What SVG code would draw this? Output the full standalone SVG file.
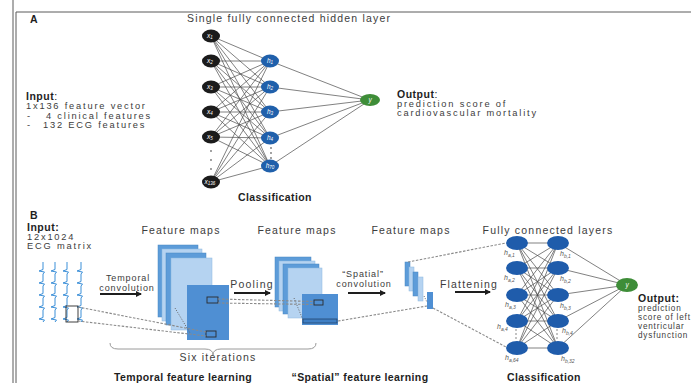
<svg xmlns="http://www.w3.org/2000/svg" width="691" height="383" viewBox="0 0 691 383">
<defs>
<style>
.t{font-family:'Liberation Sans',Arial,Helvetica,sans-serif;font-size:10.5px;letter-spacing:1.2px;fill:#3c3c3c}
.s{font-size:9.3px;letter-spacing:1.8px}
.bd{font-weight:bold;fill:#1e1e1e;letter-spacing:0.5px}
.c{text-anchor:middle}
.ttl{font-family:'Liberation Sans',Arial,Helvetica,sans-serif;font-size:10.5px;font-weight:bold;letter-spacing:0.4px;fill:#1e1e1e;text-anchor:middle}
.nl{font-family:'Liberation Sans',Arial,Helvetica,sans-serif;font-style:italic;font-size:6.5px;fill:#ffffff;text-anchor:middle}
.hl{font-family:'Liberation Sans',Arial,Helvetica,sans-serif;font-style:italic;font-size:7px;fill:#555555}
.frame{stroke:#5a5a5a;stroke-width:1;fill:none}
.e{stroke:#4a4a4a;stroke-width:0.7;fill:none}
.dash{stroke:#8a8a8a;stroke-width:1.1;stroke-dasharray:2.5 1.5;fill:none}
.dot{stroke:#666666;stroke-width:1;stroke-dasharray:1 1.5;fill:none}
.arr{stroke:#1e1e1e;stroke-width:2;fill:none;marker-end:url(#ah)}
.blk{fill:#1b1b1b}
.bluA{fill:#2060ab}
.bluB{fill:#1f5cab}
.grn{fill:#3e8d38}
.dk{fill:#5d9cd9;stroke:#4a86c2;stroke-width:0.5}
.lt{fill:#b5d3f1;stroke:#8db7e0;stroke-width:0.5}
.fr{fill:#4f8fd3}
.ecg{stroke:#3b8fd8;stroke-width:1;fill:none}
.box{stroke:#2a2a2a;stroke-width:0.9;fill:none}
.brace{stroke:#9a9a9a;stroke-width:1;fill:none}
.vd{fill:#777777}
.ob{font-size:8.2px;letter-spacing:0.8px}
.op{font-size:9px;letter-spacing:0.9px}
</style>
<marker id="ah" markerWidth="6" markerHeight="6" refX="5" refY="3" orient="auto" markerUnits="userSpaceOnUse"><path d="M0,0 L6,3 L0,6 z" fill="#1e1e1e"/></marker>
<!-- one ECG lead, drawn vertically with five beats -->
<path id="lead" d="M0,0 v7.5 l-4,1.5 l5.5,1 l-1.5,2 v7.5 l-4,1.5 l5.5,1 l-1.5,2 v7.5 l-4,1.5 l5.5,1 l-1.5,2 v7.5 l-4,1.5 l5.5,1 l-1.5,2 v7.5 l-4,1.5 l5.5,1 l-1.5,2"/>
</defs>

<rect width="691" height="383" fill="#ffffff"/>

<!-- frame -->
<g id="frame">
<path class="frame" d="M13,0 V383 M16,12 V383 M16,12 H691"/>
</g>

<!-- ===== Panel A ===== -->
<g id="panelA-labels">
<text class="t bd" x="30" y="23" font-size="10">A</text>
<text class="t" x="187" y="22">Single fully connected hidden layer</text>
<text class="t bd" x="26" y="100" font-size="10">Input<tspan font-weight="normal">:</tspan></text>
<text class="t s" x="26" y="109">1x136 feature vector</text>
<text class="t s" x="27" y="118.5">-<tspan x="46">4 clinical features</tspan></text>
<text class="t s" x="27" y="128">-<tspan x="43">132 ECG features</tspan></text>
<text class="t bd" x="397" y="98" font-size="10">Output<tspan font-weight="normal">:</tspan></text>
<text class="t s" x="397" y="107">prediction score of</text>
<text class="t s" x="397" y="116">cardiovascular mortality</text>
<text class="ttl" x="275" y="201">Classification</text>
</g>

<g id="panelA-connectors">
<path class="e" d="M211,36L270,61M211,36L270,87M211,36L270,112M211,36L270,138M211,36L270,166"/>
<path class="e" d="M211,61L270,61M211,61L270,87M211,61L270,112M211,61L270,138M211,61L270,166"/>
<path class="e" d="M211,87L270,61M211,87L270,87M211,87L270,112M211,87L270,138M211,87L270,166"/>
<path class="e" d="M211,112L270,61M211,112L270,87M211,112L270,112M211,112L270,138M211,112L270,166"/>
<path class="e" d="M211,137L270,61M211,137L270,87M211,137L270,112M211,137L270,138M211,137L270,166"/>
<path class="e" d="M211,182L270,61M211,182L270,87M211,182L270,112M211,182L270,138M211,182L270,166"/>
<path class="e" d="M270,61L370,100M270,87L370,100M270,112L370,100M270,138L370,100M270,166L370,100"/>
</g>

<g id="x1"><ellipse class="blk" cx="211" cy="36" rx="9" ry="6.5"/><text class="nl" x="210" y="38">x<tspan font-size="4.5" dy="1">1</tspan></text></g>
<g id="x2"><ellipse class="blk" cx="211" cy="61" rx="9" ry="6.5"/><text class="nl" x="210" y="63">x<tspan font-size="4.5" dy="1">2</tspan></text></g>
<g id="x3"><ellipse class="blk" cx="211" cy="87" rx="9" ry="6.5"/><text class="nl" x="210" y="89">x<tspan font-size="4.5" dy="1">3</tspan></text></g>
<g id="x4"><ellipse class="blk" cx="211" cy="112" rx="9" ry="6.5"/><text class="nl" x="210" y="114">x<tspan font-size="4.5" dy="1">4</tspan></text></g>
<g id="x5"><ellipse class="blk" cx="211" cy="137" rx="9" ry="6.5"/><text class="nl" x="210" y="139">x<tspan font-size="4.5" dy="1">5</tspan></text></g>
<g id="x-dots"><circle class="vd" cx="211" cy="151" r="0.9"/><circle class="vd" cx="211" cy="160" r="0.9"/><circle class="vd" cx="211" cy="169" r="0.9"/></g>
<g id="x136"><ellipse class="blk" cx="211" cy="182" rx="9" ry="6.5"/><text class="nl" x="210" y="184">x<tspan font-size="4.5" dy="1">136</tspan></text></g>

<g id="h1"><ellipse class="bluA" cx="270" cy="61" rx="9" ry="6.5"/><text class="nl" x="270" y="63">h<tspan font-size="4.5" dy="1">1</tspan></text></g>
<g id="h2"><ellipse class="bluA" cx="270" cy="87" rx="9" ry="6.5"/><text class="nl" x="270" y="89">h<tspan font-size="4.5" dy="1">2</tspan></text></g>
<g id="h3"><ellipse class="bluA" cx="270" cy="112" rx="9" ry="6.5"/><text class="nl" x="270" y="114">h<tspan font-size="4.5" dy="1">3</tspan></text></g>
<g id="h4"><ellipse class="bluA" cx="270" cy="138" rx="9" ry="6.5"/><text class="nl" x="270" y="140">h<tspan font-size="4.5" dy="1">4</tspan></text></g>
<g id="h-dots"><circle class="vd" cx="271" cy="148" r="0.9"/><circle class="vd" cx="271" cy="153" r="0.9"/><circle class="vd" cx="271" cy="158" r="0.9"/></g>
<g id="h70"><ellipse class="bluA" cx="270" cy="166" rx="9" ry="6.5"/><text class="nl" x="270" y="168">h<tspan font-size="4.5" dy="1">70</tspan></text></g>

<g id="yA"><ellipse class="grn" cx="370" cy="100" rx="10" ry="6"/><text class="nl" x="370" y="102">y</text></g>

<!-- ===== Panel B ===== -->
<g id="panelB-labels">
<text class="t bd" x="30" y="219" font-size="10">B</text>
<text class="t bd" x="27" y="231" font-size="10">Input:</text>
<text class="t s" x="27" y="240">12x1024</text>
<text class="t s" x="27" y="249">ECG matrix</text>
<text class="t c" x="181" y="234">Feature maps</text>
<text class="t c" x="297" y="234">Feature maps</text>
<text class="t c" x="411" y="234">Feature maps</text>
<text class="t c" x="548" y="234">Fully connected layers</text>
<text class="t c op" x="128" y="281">Temporal</text>
<text class="t c op" x="127" y="291">convolution</text>
<text class="t c" x="252" y="288" font-size="10" letter-spacing="0.8">Pooling</text>
<text class="t c op" x="363" y="277">“Spatial”</text>
<text class="t c op" x="364" y="287">convolution</text>
<text class="t c" x="469" y="288" font-size="10" letter-spacing="0.8">Flattening</text>
<text class="t c" x="218" y="361">Six iterations</text>
<text class="ttl" x="183" y="381">Temporal feature learning</text>
<text class="ttl" x="360" y="381">“Spatial” feature learning</text>
<text class="ttl" x="544" y="381">Classification</text>
<text class="t bd" x="638" y="302" font-size="9.5">Output:</text>
<text class="t ob" x="638" y="311">prediction</text>
<text class="t ob" x="638" y="320">score of left</text>
<text class="t ob" x="638" y="329">ventricular</text>
<text class="t ob" x="638" y="338">dysfunction</text>
</g>

<g id="ecg-input">
<use href="#lead" class="ecg" x="43" y="262"/>
<use href="#lead" class="ecg" x="55" y="262"/>
<use href="#lead" class="ecg" x="67" y="262"/>
<use href="#lead" class="ecg" x="81" y="262"/>
<rect class="box" x="66" y="306" width="12" height="16"/>
</g>

<g id="maps-temporal">
<rect class="dk" x="158" y="245" width="40" height="72"/>
<rect class="lt" x="162" y="249" width="40" height="72"/>
<rect class="dk" x="166" y="253" width="40" height="72"/>
<rect class="lt" x="171" y="258" width="41" height="72"/>
<rect class="fr" x="187" y="285" width="42" height="55"/>
<rect class="box" x="207" y="297" width="11" height="6"/>
<rect class="box" x="206" y="331" width="10" height="6"/>
</g>

<g id="maps-spatial">
<rect class="dk" x="275" y="257" width="36" height="50"/>
<rect class="lt" x="279" y="261" width="36" height="50"/>
<rect class="dk" x="283" y="264" width="36" height="50"/>
<rect class="lt" x="288" y="268" width="34" height="50"/>
<rect class="fr" x="302" y="294" width="36" height="31"/>
<rect class="box" x="314" y="300" width="9" height="5"/>
<rect x="303" y="319" width="34" height="4" fill="#3f7fc4" stroke="#24456e" stroke-width="0.8"/>
</g>

<g id="maps-flat">
<rect class="dk" x="405" y="262" width="5" height="24"/>
<rect class="lt" x="409" y="267" width="5" height="24"/>
<rect class="dk" x="413" y="272" width="5" height="24"/>
<rect class="lt" x="418" y="277" width="5" height="24"/>
<rect class="fr" x="427" y="292" width="6" height="17"/>
</g>

<g id="panelB-connectors">
<path class="dash" d="M78,307 L206,332 M78,321 L206,336"/>
<path class="dot" d="M175,308 L190,333"/>
<path class="dash" d="M218,299 L314,301.5 M218,303 L314,304.5"/>
<path class="dot" d="M294,298 L303,320"/>
<path class="dash" d="M338,321 L427,306"/>
<path class="dash" d="M408,262 L506,243"/>
<path class="dash" d="M433,308 L506,347"/>
<path class="dot" d="M424,296 L427,302"/>
<path class="arr" d="M100,294 H141"/>
<path class="arr" d="M234,293 H270"/>
<path class="arr" d="M348,293 H385"/>
<path class="arr" d="M455,292 H490"/>
<path class="brace" d="M110,343 Q110,349 118,349 L205,349 Q213,349 213,355 Q213,349 221,349 L308,349 Q316,349 316,343"/>
<path class="e" d="M517,243L558,243M517,243L558,268M517,243L558,295M517,243L558,321M517,243L558,348"/>
<path class="e" d="M517,268L558,243M517,268L558,268M517,268L558,295M517,268L558,321M517,268L558,348"/>
<path class="e" d="M517,295L558,243M517,295L558,268M517,295L558,295M517,295L558,321M517,295L558,348"/>
<path class="e" d="M517,321L558,243M517,321L558,268M517,321L558,295M517,321L558,321M517,321L558,348"/>
<path class="e" d="M517,348L558,243M517,348L558,268M517,348L558,295M517,348L558,321M517,348L558,348"/>
<path class="e" d="M558,243L627,285M558,268L627,285M558,295L627,285M558,321L627,285M558,348L627,285"/>
</g>

<g id="ha1"><ellipse class="bluB" cx="517" cy="243" rx="11" ry="7"/><text class="hl" x="504" y="255">h<tspan font-size="5" dy="1.5">a,1</tspan></text></g>
<g id="ha2"><ellipse class="bluB" cx="517" cy="268" rx="11" ry="7"/><text class="hl" x="504" y="280">h<tspan font-size="5" dy="1.5">a,2</tspan></text></g>
<g id="ha3"><ellipse class="bluB" cx="517" cy="295" rx="11" ry="7"/><text class="hl" x="505" y="307">h<tspan font-size="5" dy="1.5">a,3</tspan></text></g>
<g id="ha4"><ellipse class="bluB" cx="517" cy="321" rx="11" ry="7"/><text class="hl" x="497" y="329">h<tspan font-size="5" dy="1.5">a,4</tspan></text></g>
<g id="ha-dots"><circle class="vd" cx="516" cy="330" r="0.8"/><circle class="vd" cx="516" cy="334" r="0.8"/><circle class="vd" cx="516" cy="338" r="0.8"/></g>
<g id="ha64"><ellipse class="bluB" cx="517" cy="348" rx="11" ry="7"/><text class="hl" x="505" y="360">h<tspan font-size="5" dy="1.5">a,64</tspan></text></g>

<g id="hb1"><ellipse class="bluB" cx="558" cy="243" rx="11" ry="7"/><text class="hl" x="560" y="256">h<tspan font-size="5" dy="1.5">b,1</tspan></text></g>
<g id="hb2"><ellipse class="bluB" cx="558" cy="268" rx="11" ry="7"/><text class="hl" x="560" y="281">h<tspan font-size="5" dy="1.5">b,2</tspan></text></g>
<g id="hb3"><ellipse class="bluB" cx="558" cy="295" rx="11" ry="7"/><text class="hl" x="560" y="308">h<tspan font-size="5" dy="1.5">b,3</tspan></text></g>
<g id="hb4"><ellipse class="bluB" cx="558" cy="321" rx="11" ry="7"/><text class="hl" x="562" y="333">h<tspan font-size="5" dy="1.5">b,4</tspan></text></g>
<g id="hb-dots"><circle class="vd" cx="557" cy="330" r="0.8"/><circle class="vd" cx="557" cy="334" r="0.8"/><circle class="vd" cx="557" cy="338" r="0.8"/></g>
<g id="hb32"><ellipse class="bluB" cx="558" cy="348" rx="11" ry="7"/><text class="hl" x="561" y="361">h<tspan font-size="5" dy="1.5">b,32</tspan></text></g>

<g id="yB"><ellipse class="grn" cx="627" cy="285" rx="11" ry="7"/><text class="nl" x="627" y="287">y</text></g>
</svg>
